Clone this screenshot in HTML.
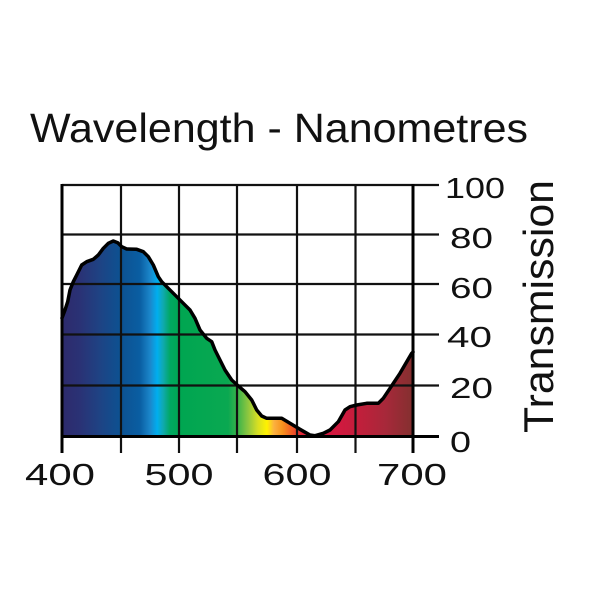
<!DOCTYPE html>
<html>
<head>
<meta charset="utf-8">
<style>
  html, body { margin: 0; padding: 0; background: #ffffff; }
  svg { display: block; }
  text { font-family: "Liberation Sans", "DejaVu Sans", sans-serif; fill: #111; }
</style>
</head>
<body>
<svg width="600" height="600" viewBox="0 0 600 600" xmlns="http://www.w3.org/2000/svg">
  <defs>
    <linearGradient id="spec" gradientUnits="userSpaceOnUse" x1="62" y1="0" x2="413" y2="0">
      <stop offset="0" stop-color="#2d2a6c"/>
      <stop offset="0.051" stop-color="#2a3275"/>
      <stop offset="0.108" stop-color="#1e4384"/>
      <stop offset="0.165" stop-color="#0d5191"/>
      <stop offset="0.222" stop-color="#0a5ea2"/>
      <stop offset="0.251" stop-color="#1b86ca"/>
      <stop offset="0.271" stop-color="#00aeef"/>
      <stop offset="0.288" stop-color="#10a9b0"/>
      <stop offset="0.308" stop-color="#00a862"/>
      <stop offset="0.336" stop-color="#00a651"/>
      <stop offset="0.473" stop-color="#0aa851"/>
      <stop offset="0.501" stop-color="#3cb44a"/>
      <stop offset="0.530" stop-color="#8dc63f"/>
      <stop offset="0.558" stop-color="#d7df23"/>
      <stop offset="0.584" stop-color="#fff200"/>
      <stop offset="0.604" stop-color="#fbb040"/>
      <stop offset="0.627" stop-color="#f7941d"/>
      <stop offset="0.655" stop-color="#f15a24"/>
      <stop offset="0.684" stop-color="#e0263a"/>
      <stop offset="0.712" stop-color="#d7173f"/>
      <stop offset="0.792" stop-color="#d0193f"/>
      <stop offset="0.849" stop-color="#c01f3b"/>
      <stop offset="0.920" stop-color="#a8283a"/>
      <stop offset="1" stop-color="#83302f"/>
    </linearGradient>
  </defs>

  <!-- Filled spectrum area -->
  <path fill="url(#spec)" d="M62,437 L62,318 L65,310 L67.7,301.7 L70,290 L73.3,281.7 L76.7,275 L81.7,265 L86.7,261.7 L93.3,259.3 L98.3,255 L103.3,248.3 L108.3,243.3 L113.3,241 L117.7,242.7 L121.7,246.7 L126.7,249 L136.7,249.3 L143.3,251.7 L148.3,256.7 L153.3,265 L158.3,276.7 L161.7,281.7 L168.3,288.3 L176.7,296.7 L183.3,303.3 L190,310 L195,318.3 L200,330 L206.7,338.3 L211.7,341.7 L215,350 L220,360 L225,370 L231.7,380 L238.3,386 L245,391.7 L251.7,400 L256.7,410 L261.7,416 L266.7,418.3 L281.7,418.3 L290,423.3 L300,429.3 L310,435 L315,435.7 L323.3,433.3 L330,430 L338.3,421.7 L345,410 L350,406.7 L356.7,405 L366.7,403.3 L378.3,403.3 L383.3,398.3 L390,388.3 L400,373.3 L411.7,353.3 L413,352 L413,437 Z"/>

  <!-- Grid: horizontal lines (extend right as ticks) -->
  <g stroke="#111" stroke-width="2.2">
    <line x1="62" y1="185" x2="439" y2="185"/>
    <line x1="62" y1="234.5" x2="439" y2="234.5"/>
    <line x1="62" y1="284" x2="439" y2="284"/>
    <line x1="62" y1="334.5" x2="439" y2="334.5"/>
    <line x1="62" y1="385.5" x2="439" y2="385.5"/>
  </g>
  <!-- Grid: vertical lines (extend below as ticks) -->
  <g stroke="#111" stroke-width="2.2">
    <line x1="121" y1="185" x2="121" y2="453"/>
    <line x1="179" y1="185" x2="179" y2="453"/>
    <line x1="237" y1="185" x2="237" y2="453"/>
    <line x1="297" y1="185" x2="297" y2="453"/>
    <line x1="355.5" y1="185" x2="355.5" y2="453"/>
  </g>

  <!-- Curve outline -->
  <path fill="none" stroke="#000" stroke-width="3.5" stroke-linejoin="round" stroke-linecap="round" d="M62,318 L65,310 L67.7,301.7 L70,290 L73.3,281.7 L76.7,275 L81.7,265 L86.7,261.7 L93.3,259.3 L98.3,255 L103.3,248.3 L108.3,243.3 L113.3,241 L117.7,242.7 L121.7,246.7 L126.7,249 L136.7,249.3 L143.3,251.7 L148.3,256.7 L153.3,265 L158.3,276.7 L161.7,281.7 L168.3,288.3 L176.7,296.7 L183.3,303.3 L190,310 L195,318.3 L200,330 L206.7,338.3 L211.7,341.7 L215,350 L220,360 L225,370 L231.7,380 L238.3,386 L245,391.7 L251.7,400 L256.7,410 L261.7,416 L266.7,418.3 L281.7,418.3 L290,423.3 L300,429.3 L310,435 L315,435.7 L323.3,433.3 L330,430 L338.3,421.7 L345,410 L350,406.7 L356.7,405 L366.7,403.3 L378.3,403.3 L383.3,398.3 L390,388.3 L400,373.3 L411.7,353.3 L413,352"/>

  <!-- Axes (thicker) -->
  <g stroke="#000" stroke-width="3">
    <line x1="62" y1="184" x2="62" y2="453"/>
    <line x1="413" y1="184" x2="413" y2="453"/>
    <line x1="60.5" y1="436.5" x2="439" y2="436.5"/>
  </g>

  <!-- Title -->
  <text x="30" y="142" font-size="41" textLength="498" lengthAdjust="spacingAndGlyphs">Wavelength - Nanometres</text>

  <!-- X tick labels -->
  <g font-size="31" text-anchor="middle">
    <text x="60" y="485" textLength="70" lengthAdjust="spacingAndGlyphs">400</text>
    <text x="179" y="485" textLength="69" lengthAdjust="spacingAndGlyphs">500</text>
    <text x="297" y="485" textLength="69" lengthAdjust="spacingAndGlyphs">600</text>
    <text x="412" y="485" textLength="70" lengthAdjust="spacingAndGlyphs">700</text>
  </g>

  <!-- Y tick labels -->
  <g font-size="29">
    <text x="445" y="198" textLength="60" lengthAdjust="spacingAndGlyphs">100</text>
    <text x="450" y="248" textLength="43" lengthAdjust="spacingAndGlyphs">80</text>
    <text x="450" y="298" textLength="43" lengthAdjust="spacingAndGlyphs">60</text>
    <text x="447" y="347" textLength="45" lengthAdjust="spacingAndGlyphs">40</text>
    <text x="450" y="398" textLength="43" lengthAdjust="spacingAndGlyphs">20</text>
    <text x="450" y="452" textLength="21" lengthAdjust="spacingAndGlyphs">0</text>
  </g>

  <!-- Y axis title -->
  <text transform="translate(553,433) rotate(-90)" x="0" y="0" font-size="42" textLength="253" lengthAdjust="spacingAndGlyphs">Transmission</text>
</svg>
</body>
</html>
